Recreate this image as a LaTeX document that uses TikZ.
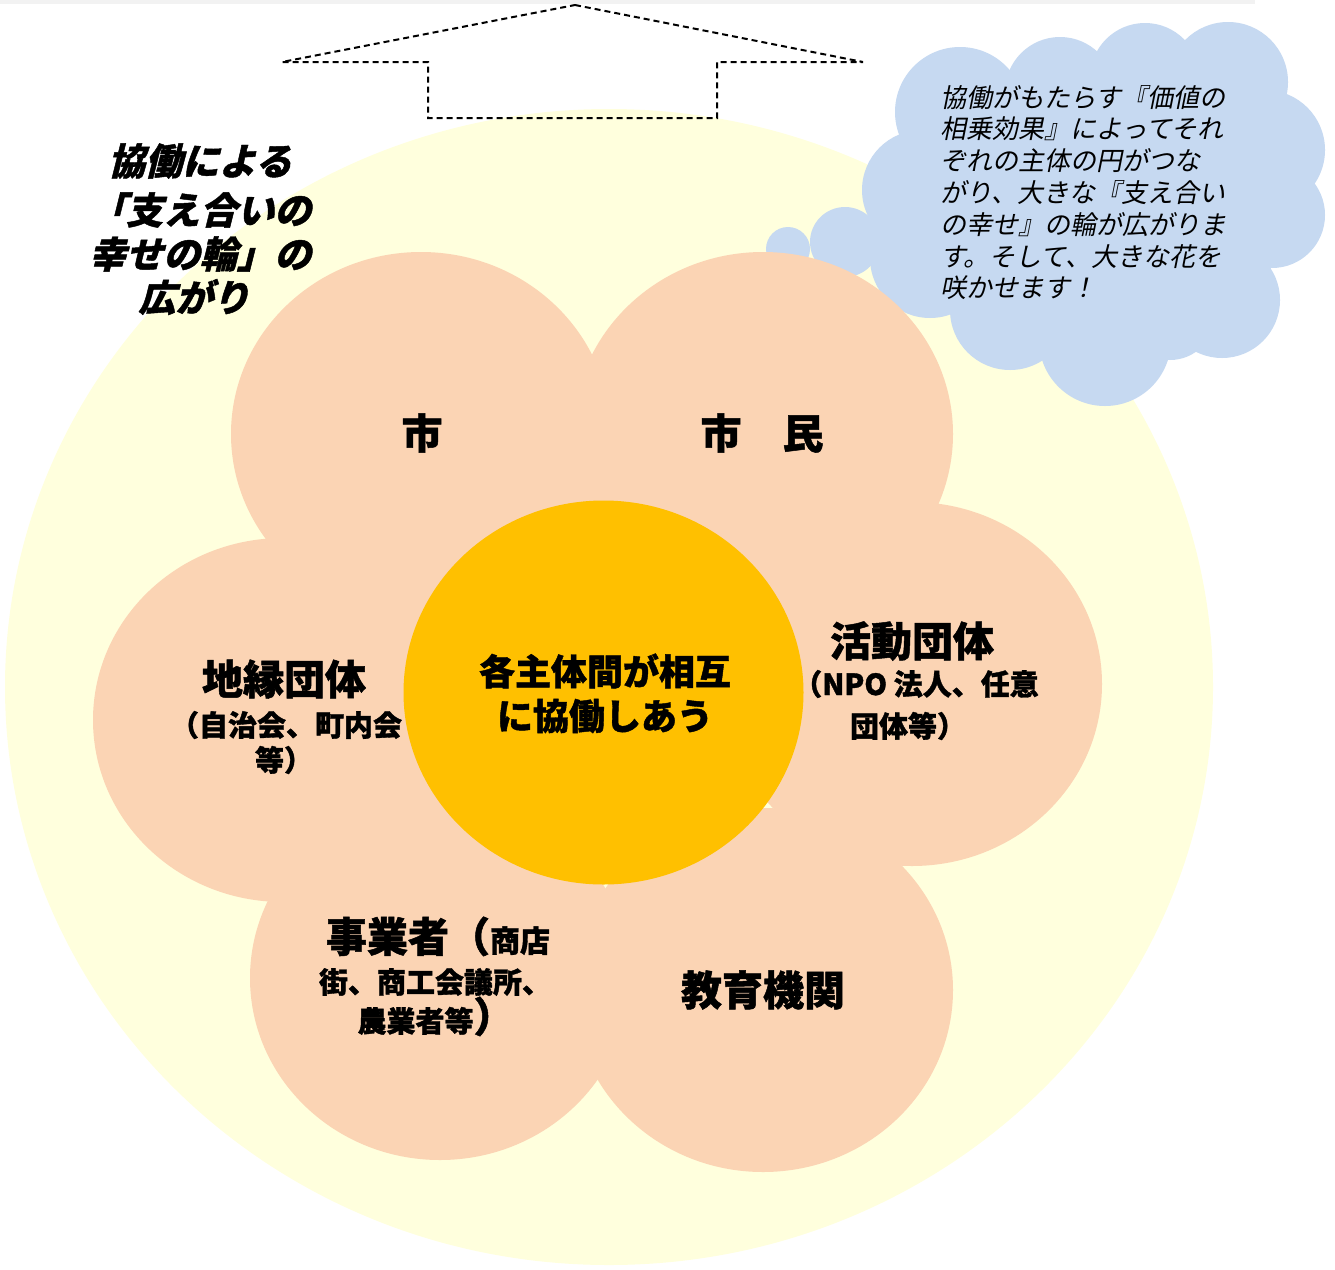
\documentclass[tikz,border=0pt]{standalone}
\usepackage{fontspec}
\newfontfamily\jp{Noto Sans CJK JP}[BoldFeatures={FakeBold=1.2}]
\newfontfamily\jpit{Noto Sans CJK JP}[FakeSlant=0.2]
\newfontfamily\jptitle{Noto Sans CJK JP}[FakeSlant=0.25, BoldFeatures={FakeBold=1.2}]
\definecolor{bgyellow}{HTML}{FFFFDD}
\definecolor{petalc}{HTML}{FBD4B4}
\definecolor{corec}{HTML}{FFC000}
\definecolor{cloudblue}{HTML}{C6D9F1}
\definecolor{stripgray}{HTML}{F2F2F2}
\tikzset{
  biglbl/.style={font=\jp\bfseries\fontsize{41}{48}\selectfont, inner sep=0pt},
  sublbl/.style={font=\jp\bfseries\fontsize{29}{34}\selectfont, inner sep=0pt},
  corelbl/.style={font=\jp\bfseries\fontsize{36}{42}\selectfont, inner sep=0pt},
  titlelbl/.style={font=\jptitle\bfseries\fontsize{37}{44}\selectfont, inner sep=0pt},
  cloudtxt/.style={font=\jpit\fontsize{26}{31}\selectfont, inner sep=0pt, anchor=base west},
  petalshape/.style={fill=petalc},
  arrowline/.style={draw=black, line width=2pt, dash pattern=on 6pt off 4pt}
}
\begin{document}
\begin{tikzpicture}[x=1pt,y=-1pt]
\useasboundingbox (0,0) rectangle (1335,1269);
\fill[white] (0,0) rectangle (1335,1269);
\fill[stripgray] (0,0) rectangle (1255,4);
% big background circle
\fill[bgyellow] (609,687) ellipse [x radius=604pt, y radius=578pt];
% dashed up arrow
\coordinate (tip) at (575,5);
\coordinate (lw) at (282,62);
\coordinate (ls) at (428,62);
\coordinate (lb) at (428,118);
\coordinate (rb) at (717,118);
\coordinate (rs) at (717,62);
\coordinate (rw) at (863,62);
\draw[arrowline] (tip) -- (rw) -- (rs) -- (rb) -- (lb) -- (ls) -- (lw) -- cycle;
% cloud
\fill[cloudblue] (1095,215) ellipse [x radius=190pt, y radius=140pt];
\foreach \cx/\cy/\r in {960/112/65, 1060/92/55, 1145/78/55, 1228/82/60, 1265/150/60,
  1272/215/53, 1222/300/58, 1170/315/45, 1105/340/66, 1010/310/60, 930/258/60,
  922/190/60, 845/242/35, 788/249/22}
  \fill[cloudblue] (\cx,\cy) circle [radius=\r pt];
% petals
\foreach \px/\py in {421/434, 763/434, 912/684, 763/990, 440/978, 283/720}
  \fill[petalshape] (\px,\py) ellipse [x radius=190pt, y radius=182pt];
% core
\fill[corec] (603.5,692.5) ellipse [x radius=200pt, y radius=192pt];
% labels
\node[biglbl] (shi) at (422,433) {市};
\node[biglbl] (shimin) at (762,433) {市　民};
\node[biglbl] (chien) at (284,679) {地縁団体};
\node[sublbl] (chien2) at (286,725) {（自治会、町内会};
\node[sublbl] (chien3) at (284,760) {等）};
\node[biglbl] (katsudo) at (912,641) {活動団体};
\node[sublbl] (katsudo2) at (916,684) {（NPO 法人、任意};
\node[sublbl] (katsudo3) at (908,726) {団体等）};
\node[biglbl] (kyoiku) at (763,990) {教育機関};
\node[biglbl, anchor=base] (jigyo) at (438,952) {事業者（{\fontsize{30}{34}\selectfont 商店}};
\node[sublbl, anchor=base] (jigyo2) at (435,993) {街、商工会議所、};
\node[sublbl, anchor=base] (jigyo3) at (436,1032) {農業者等{\fontsize{41}{48}\selectfont ）}};
\node[corelbl] (core1) at (605,671) {各主体間が相互};
\node[corelbl] (core2) at (605,716) {に協働しあう};
% title
\node[titlelbl] (t1) at (200,161) {協働による};
\node[titlelbl] (t2) at (200,210) {「支え合いの};
\node[titlelbl] (t3) at (200,254) {幸せの輪」の};
\node[titlelbl] (t4) at (194,297) {広がり};
% cloud text
\foreach \t [count=\i] in {協働がもたらす『価値の, 相乗効果』によってそれ, ぞれの主体の円がつな,
  がり、大きな『支え合い, の幸せ』の輪が広がりま, す。そして、大きな花を, 咲かせます！}
  \node[cloudtxt] (cl\i) at ({940},{107+31.8*(\i-1)}) {\t};
\end{tikzpicture}
\end{document}
